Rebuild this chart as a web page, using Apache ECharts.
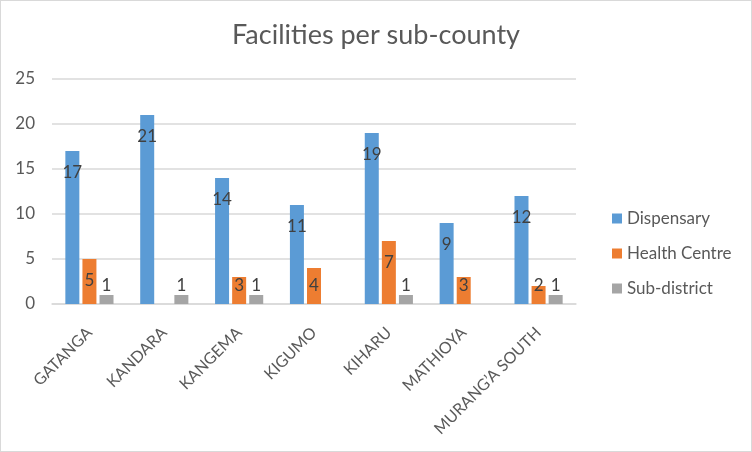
<!DOCTYPE html>
<html>
<head>
<meta charset="utf-8">
<script src="https://cdn.jsdelivr.net/npm/echarts@6/dist/echarts.min.js"></script>
<style>
  html, body { margin: 0; padding: 0; background: #fff; }
  #chart { width: 752px; height: 452px; box-sizing: border-box; border: 1px solid #d9d9d9; }
</style>
</head>
<body>
<div id="chart"></div>
<script>
const categories = ['GATANGA', 'KANDARA', 'KANGEMA', 'KIGUMO', 'KIHARU', 'MATHIOYA', 'MURANG\u2019A SOUTH']
const dispensary = [17, 21, 14, 11, 19, 9, 12]
const healthCentre = [5, null, 3, 4, 7, 3, 2]
const subDistrict = [1, 1, 1, null, 1, null, 1]

const chart = echarts.init(document.getElementById('chart'))

const textColor = '#595959'
const fontFamily = 'Lato, "Open Sans", sans-serif'

// Excel-style "inside end" labels, kept above the axis for short bars
const barLabel = {
  show: true,
  fontSize: 17,
  color: '#404040',
  fontFamily: fontFamily
}
const labelLayout = (params) => {
  const r = params.rect
  return {
    x: r.x + r.width / 2,
    y: Math.min(r.y + 22, r.y + r.height - 18),
    align: 'center',
    verticalAlign: 'middle'
  }
}

const makeSeries = (name, data, color) => ({
  name: name,
  type: 'bar',
  data: data,
  barWidth: 14,
  barGap: '22%',
  itemStyle: { color: color },
  label: barLabel,
  labelLayout: labelLayout
})

chart.setOption({
  textStyle: { fontFamily: fontFamily },
  title: {
    text: 'Facilities per sub-county',
    left: 'center',
    top: 16,
    textStyle: { fontSize: 27, fontWeight: 'normal', color: textColor, fontFamily: fontFamily }
  },
  legend: {
    orient: 'vertical',
    left: 606,
    top: 204,
    icon: 'rect',
    itemWidth: 10,
    itemHeight: 10,
    itemGap: 18,
    textStyle: { fontSize: 17, color: textColor, fontFamily: fontFamily },
    data: ['Dispensary', 'Health Centre', 'Sub-district']
  },
  grid: {
    left: 51,
    right: 175,
    top: 78,
    bottom: 147
  },
  xAxis: {
    type: 'category',
    data: categories,
    axisLine: { lineStyle: { color: '#d9d9d9', width: 1.5 } },
    axisTick: { show: false },
    axisLabel: {
      rotate: 45,
      interval: 0,
      margin: 26,
      fontSize: 16,
      color: textColor,
      fontFamily: fontFamily
    }
  },
  yAxis: {
    type: 'value',
    min: 0,
    max: 25,
    interval: 5,
    axisLine: { show: false },
    axisTick: { show: false },
    splitLine: { lineStyle: { color: '#d9d9d9', width: 1.5 } },
    axisLabel: { fontSize: 17, color: textColor, margin: 17, fontFamily: fontFamily }
  },
  series: [
    makeSeries('Dispensary', dispensary, '#5B9BD5'),
    makeSeries('Health Centre', healthCentre, '#ED7D31'),
    makeSeries('Sub-district', subDistrict, '#A5A5A5')
  ]
})
</script>
</body>
</html>
